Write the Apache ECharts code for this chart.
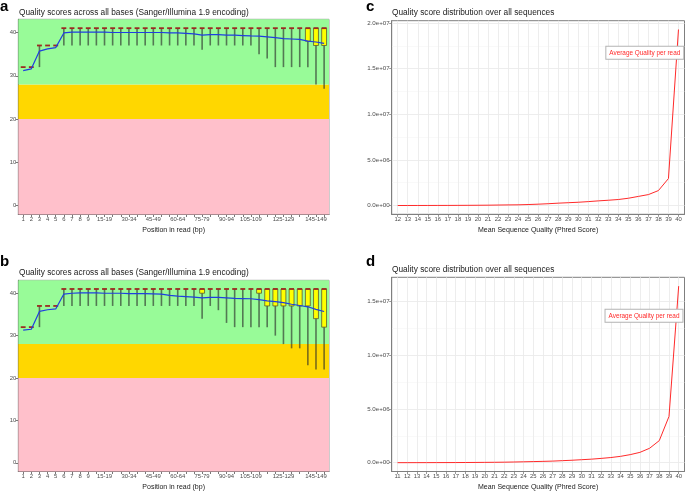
<!DOCTYPE html>
<html><head><meta charset="utf-8">
<script src="https://cdn.jsdelivr.net/npm/echarts@6/dist/echarts.min.js"></script>
<style>html,body{margin:0;padding:0;background:#fff}#chart{width:685px;height:492px}</style>
</head><body><div id="chart"></div>
<script>
// ---- Panel a/b: per-base quality (categories = position groups) ----
const positions = ['1','2','3','4','5','6','7','8','9','10-14','15-19','20-24','25-29','30-34','35-39','40-44','45-49','50-54','55-59','60-64','65-69','70-74','75-79','80-84','85-89','90-94','95-99','100-104','105-109','110-114','115-119','120-124','125-129','130-134','135-139','140-144','145-149','150-151'];
const shownPositionLabels = ['1','2','3','4','5','6','7','8','9','15-19','30-34','45-49','60-64','75-79','90-94','105-109','125-129','145-149'];
const qualityTicks = [0, 10, 20, 30, 40];
const bandBreaks = [20, 28]; // poor / reasonable / good thresholds

// panel a
const aP10    = [32,32,32,37,37, 37,37,37,37,37,37,37,37,37,37,37,37,37,37,37,37,37, 36, 37,37,37,37,37,37, 35,34, 32,32,32,32,32, 28,27];
const aQ1     = [32,32,37,37,37, 41,41,41,41,41,41,41,41,41,41,41,41,41,41,41,41,41, 41, 41,41,41,41,41,41, 41,41, 41,41,41,41,38, 37,37];
const aMedian = [32,32,37,37,37, 41,41,41,41,41,41,41,41,41,41,41,41,41,41,41,41,41, 41, 41,41,41,41,41,41, 41,41, 41,41,41,41,41, 41,41];
const aQ3     = [32,32,37,37,37, 41,41,41,41,41,41,41,41,41,41,41,41,41,41,41,41,41, 41, 41,41,41,41,41,41, 41,41, 41,41,41,41,41, 41,41];
const aP90    = [32,32,37,37,37, 41,41,41,41,41,41,41,41,41,41,41,41,41,41,41,41,41, 41, 41,41,41,41,41,41, 41,41, 41,41,41,41,41, 41,41];
const aMean   = [31.2,31.6,35.7,36.2,36.5,39.9,40.1,40.1,40.1,40.1,40.1,40.0,40.0,40.0,40.0,40.0,40.0,40.0,39.9,39.9,39.8,39.7,39.4,39.5,39.5,39.4,39.4,39.3,39.2,39.15,39.0,38.8,38.6,38.5,38.4,38.0,37.8,37.5];

// panel b
const bP10    = [32,32,32,37,37, 37,37,37,37,37,37,37,37,37,37,37,37,37,37,37,37,37, 34,37,36,33, 32,32,32,32,32, 30,28,27,27,23,22,22];
const bQ1     = [32,32,37,37,37, 41,41,41,41,41,41,41,41,41,41,41,41,41,41,41,41,41, 40,41,41,41, 41,41,41,40,37, 37,37,37,37,37,34,32];
const bMedian = [32,32,37,37,37, 41,41,41,41,41,41,41,41,41,41,41,41,41,41,41,41,41, 41,41,41,41, 41,41,41,41,41, 41,41,41,41,41,41,41];
const bQ3     = [32,32,37,37,37, 41,41,41,41,41,41,41,41,41,41,41,41,41,41,41,41,41, 41,41,41,41, 41,41,41,41,41, 41,41,41,41,41,41,41];
const bP90    = [32,32,37,37,37, 41,41,41,41,41,41,41,41,41,41,41,41,41,41,41,41,41, 41,41,41,41, 41,41,41,41,41, 41,41,41,41,41,41,41];
const bMean   = [31.3,31.5,35.7,36.1,36.3,39.8,40.0,40.1,40.1,40.1,40.0,40.0,40.0,39.9,39.9,39.9,39.85,39.8,39.5,39.3,39.2,39.1,38.9,39.0,39.0,38.9,38.8,38.75,38.7,38.5,38.2,38.0,37.8,37.4,37.1,36.8,36.2,35.7];

// ---- Panel c/d: per-sequence quality distribution ----
const qualC   = [12,13,14,15,16,17,18,19,20,21,22,23,24,25,26,27,28,29,30,31,32,33,34,35,36,37,38,39,40];
const countsC = [5e3,6e3,8e3,1.0e4,1.2e4,1.5e4,2.0e4,2.5e4,3.2e4,4.0e4,5.5e4,7.0e4,8.0e4,1.1e5,1.5e5,2.0e5,2.6e5,3.1e5,3.6e5,4.3e5,5.1e5,5.8e5,6.6e5,8.0e5,1.0e6,1.2e6,1.64e6,2.96e6,1.928e7];
const qualD   = [11,12,13,14,15,16,17,18,19,20,21,22,23,24,25,26,27,28,29,30,31,32,33,34,35,36,37,38,39,40];
const countsD = [4e3,5e3,6e3,8e3,1.0e4,1.2e4,1.5e4,2.0e4,2.5e4,3.2e4,4.0e4,5.0e4,6.5e4,8.5e4,1.05e5,1.25e5,1.5e5,1.9e5,2.3e5,2.8e5,3.3e5,4.0e5,4.8e5,5.9e5,7.5e5,9.6e5,1.34e6,2.05e6,4.29e6,1.638e7];
const countMajorTicks = [0, 5e6, 1e7, 1.5e7, 2e7];
const countMinorTicks = [2.5e6, 7.5e6, 1.25e7, 1.75e7];

const titleAB = 'Quality scores across all bases (Sanger/Illumina 1.9 encoding)';
const titleCD = 'Quality score distribution over all sequences';
const xNameAB = 'Position in read (bp)';
const xNameCD = 'Mean Sequence Quality (Phred Score)';
const seriesNameCD = 'Average Quality per read';

// ---------------------------------------------------------------
const FONT = '"Liberation Sans", Arial, sans-serif';
const idx = positions.map((_, i) => i);
const labelIdx = idx.filter(i => shownPositionLabels.indexOf(positions[i]) >= 0);
const QMIN = -0.05 * 41, QMAX = 41 + 0.05 * 41;

function expo(v) {
  if (v === 0) return '0.0e+00';
  const s = v.toExponential(1);
  const m = s.split('e');
  const sign = m[1][0];
  let e = m[1].slice(1);
  if (e.length < 2) e = '0' + e;
  return m[0] + 'e' + sign + e;
}

const grids = [
  {left: 18.3, top: 19.3, width: 310.7, height: 195.2},
  {left: 18.3, top: 280.3, width: 310.7, height: 194.4},
  {left: 391.7, top: 20.7, width: 292.8, height: 193.6},
  {left: 391.7, top: 277.3, width: 292.8, height: 197}
];

const tickLabelStyle = {fontSize: 5.9, color: '#4d4d4d', fontFamily: FONT};
const nameStyle = {fontSize: 7, color: '#1a1a1a', fontFamily: FONT};

function posXAxis(gi) {
  return {
    type: 'value', gridIndex: gi, min: -0.6, max: positions.length - 1 + 0.6,
    name: xNameAB, nameLocation: 'middle', nameGap: 12.5, nameTextStyle: nameStyle,
    axisLine: {show: true, onZero: false, lineStyle: {color: '#555', width: 1}},
    axisTick: {show: true, length: 2.5, customValues: idx, lineStyle: {color: '#555', width: 0.8}},
    axisLabel: {customValues: labelIdx, formatter: v => positions[Math.round(v)], margin: 2, ...tickLabelStyle},
    splitLine: {show: false}
  };
}
function qualYAxis(gi) {
  return {
    type: 'value', gridIndex: gi, min: QMIN, max: QMAX,
    axisLine: {show: true, onZero: false, lineStyle: {color: '#555', width: 1}},
    axisTick: {show: true, length: 2.5, customValues: qualityTicks, lineStyle: {color: '#555', width: 0.8}},
    axisLabel: {customValues: qualityTicks, margin: 2, ...tickLabelStyle},
    splitLine: {show: false}
  };
}
function qualXAxis(gi, q) {
  return {
    type: 'value', gridIndex: gi, min: q[0] - 0.6, max: q[q.length - 1] + 0.6,
    name: xNameCD, nameLocation: 'middle', nameGap: 12.5, nameTextStyle: nameStyle,
    axisLine: {show: true, onZero: false, lineStyle: {color: '#7f7f7f', width: 1}},
    axisTick: {show: true, length: 2.5, customValues: q, lineStyle: {color: '#7f7f7f', width: 0.8}},
    axisLabel: {customValues: q, margin: 2, ...tickLabelStyle},
    splitLine: {show: true, lineStyle: {color: '#ebebeb', width: 0.9}}
  };
}
function countRange(c) {
  const mx = Math.max(...c), mn = Math.min(...c);
  const pad = 0.05 * (mx - mn);
  return [mn - pad, mx + pad];
}
function countYAxes(gi, c) {
  const r = countRange(c);
  const major = countMajorTicks.filter(v => v <= r[1]);
  const minor = countMinorTicks.filter(v => v <= r[1]);
  return [{
    type: 'value', gridIndex: gi, min: r[0], max: r[1],
    axisLine: {show: true, onZero: false, lineStyle: {color: '#7f7f7f', width: 1}},
    axisTick: {show: true, length: 2.5, customValues: major, lineStyle: {color: '#7f7f7f', width: 0.8}},
    axisLabel: {customValues: major, formatter: expo, margin: 2, ...tickLabelStyle, fontSize: 6.2},
    splitLine: {show: true, lineStyle: {color: '#ebebeb', width: 0.9}}
  }, {
    type: 'value', gridIndex: gi, min: r[0], max: r[1], position: 'left',
    axisLine: {show: false}, axisLabel: {show: false},
    axisTick: {show: false, customValues: minor},
    splitLine: {show: true, lineStyle: {color: '#f5f5f5', width: 0.6}}
  }];
}

function renderBox(params, api) {
  const x = api.value(0);
  const w = api.size([1, 0])[0] * 0.6;
  const lo = api.coord([x, api.value(1)]);
  const q1 = api.coord([x, api.value(2)]);
  const md = api.coord([x, api.value(3)]);
  const q3 = api.coord([x, api.value(4)]);
  const hi = api.coord([x, api.value(5)]);
  const ch = [];
  if (Math.abs(hi[1] - lo[1]) > 0.1) {
    ch.push({type: 'line', shape: {x1: lo[0], y1: lo[1], x2: hi[0], y2: hi[1]},
      style: {stroke: 'rgba(40,40,40,0.62)', lineWidth: 1.6}});
  }
  if (Math.abs(q1[1] - q3[1]) > 0.1) {
    ch.push({type: 'rect', shape: {x: q3[0] - w / 2, y: q3[1], width: w, height: q1[1] - q3[1]},
      style: {fill: '#ffff00', stroke: '#5b5b30', lineWidth: 0.8}});
  }
  ch.push({type: 'line', shape: {x1: md[0] - w / 2, y1: md[1], x2: md[0] + w / 2, y2: md[1]},
    style: {stroke: '#9b2b22', lineWidth: 1.8}});
  return {type: 'group', children: ch};
}

function boxSeries(gi, p10, q1, med, q3, p90, mean) {
  const data = idx.map(i => [i, p10[i], q1[i], med[i], q3[i], p90[i]]);
  const bands = [
    [{yAxis: QMIN, itemStyle: {color: '#FFC0CB'}}, {yAxis: bandBreaks[0]}],
    [{yAxis: bandBreaks[0], itemStyle: {color: '#FFD700'}}, {yAxis: bandBreaks[1]}],
    [{yAxis: bandBreaks[1], itemStyle: {color: '#98FB98'}}, {yAxis: QMAX}]
  ];
  return [
    {type: 'line', xAxisIndex: gi, yAxisIndex: gi, data: [], z: 1, silent: true,
     markArea: {silent: true, data: bands, itemStyle: {opacity: 1}}},
    {type: 'custom', xAxisIndex: gi, yAxisIndex: gi, z: 2, renderItem: renderBox, data: data,
     encode: {x: 0, y: [1, 2, 3, 4, 5]}, silent: true, animation: false},
    {type: 'line', xAxisIndex: gi, yAxisIndex: gi, z: 3, data: idx.map(i => [i, mean[i]]),
     showSymbol: false, symbol: 'none', lineStyle: {color: '#1f3fe0', width: 1.2}, silent: true, animation: false}
  ];
}

const yC = countYAxes(2, countsC);
const yD = countYAxes(3, countsD);

const option = {
  animation: false,
  backgroundColor: '#fff',
  grid: [
    {...grids[0], show: true, borderColor: '#999', borderWidth: 1, containLabel: false},
    {...grids[1], show: true, borderColor: '#999', borderWidth: 1, containLabel: false},
    {...grids[2], show: true, borderColor: '#7f7f7f', borderWidth: 1, containLabel: false, backgroundColor: '#fff'},
    {...grids[3], show: true, borderColor: '#7f7f7f', borderWidth: 1, containLabel: false, backgroundColor: '#fff'}
  ],
  xAxis: [posXAxis(0), posXAxis(1), qualXAxis(2, qualC), qualXAxis(3, qualD)],
  yAxis: [qualYAxis(0), qualYAxis(1), yC[0], yD[0], yC[1], yD[1]],
  series: [
    ...boxSeries(0, aP10, aQ1, aMedian, aQ3, aP90, aMean),
    ...boxSeries(1, bP10, bQ1, bMedian, bQ3, bP90, bMean),
    {type: 'line', name: seriesNameCD, xAxisIndex: 2, yAxisIndex: 2, data: qualC.map((q, i) => [q, countsC[i]]),
     showSymbol: false, symbol: 'none', lineStyle: {color: '#ff2a2a', width: 1}, z: 3},
    {type: 'line', name: seriesNameCD, xAxisIndex: 3, yAxisIndex: 3, data: qualD.map((q, i) => [q, countsD[i]]),
     showSymbol: false, symbol: 'none', lineStyle: {color: '#ff2a2a', width: 1}, z: 3}
  ],
  graphic: [
    {type: 'text', x: 0, y: 14, style: {text: 'a', font: 'bold 15px ' + FONT, fill: '#000', textVerticalAlign: 'bottom'}},
    {type: 'text', x: 0, y: 269, style: {text: 'b', font: 'bold 15px ' + FONT, fill: '#000', textVerticalAlign: 'bottom'}},
    {type: 'text', x: 366, y: 14.5, style: {text: 'c', font: 'bold 15px ' + FONT, fill: '#000', textVerticalAlign: 'bottom'}},
    {type: 'text', x: 366, y: 269, style: {text: 'd', font: 'bold 15px ' + FONT, fill: '#000', textVerticalAlign: 'bottom'}},
    {type: 'text', x: 19, y: 12.5, style: {text: titleAB, font: '8.3px ' + FONT, fill: '#1a1a1a', textVerticalAlign: 'middle'}},
    {type: 'text', x: 19, y: 272.5, style: {text: titleAB, font: '8.3px ' + FONT, fill: '#1a1a1a', textVerticalAlign: 'middle'}},
    {type: 'text', x: 392, y: 12.7, style: {text: titleCD, font: '8.3px ' + FONT, fill: '#1a1a1a', textVerticalAlign: 'middle'}},
    {type: 'text', x: 392, y: 270, style: {text: titleCD, font: '8.3px ' + FONT, fill: '#1a1a1a', textVerticalAlign: 'middle'}},
    {type: 'text', x: 644.8, y: 52.8, z: 100, style: {text: seriesNameCD, font: '6.4px ' + FONT, fill: '#ff2a2a',
      textAlign: 'center', textVerticalAlign: 'middle', backgroundColor: '#fff', borderColor: '#b3b3b3', borderWidth: 1, padding: [3, 3]}},
    {type: 'text', x: 644, y: 315.8, z: 100, style: {text: seriesNameCD, font: '6.4px ' + FONT, fill: '#ff2a2a',
      textAlign: 'center', textVerticalAlign: 'middle', backgroundColor: '#fff', borderColor: '#b3b3b3', borderWidth: 1, padding: [3, 3]}}
  ]
};

const chart = echarts.init(document.getElementById('chart'), null, {renderer: 'canvas'});
chart.setOption(option);
</script>
</body></html>
